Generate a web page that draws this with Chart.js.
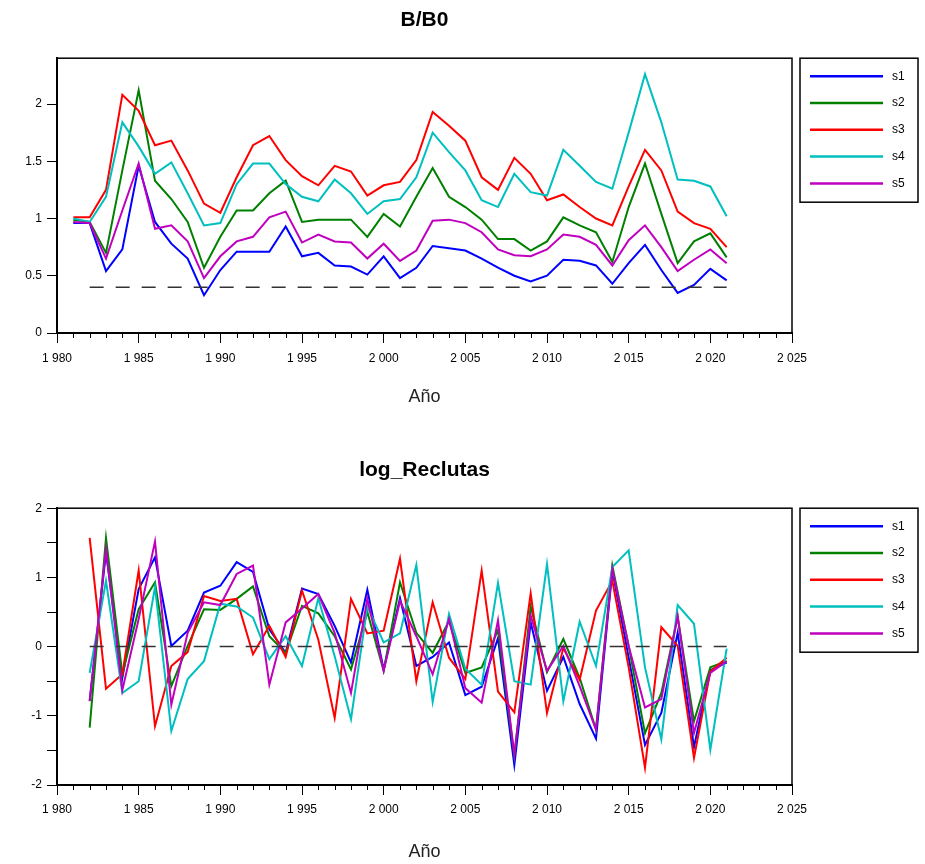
<!DOCTYPE html>
<html>
<head>
<meta charset="utf-8">
<script src="https://cdn.jsdelivr.net/npm/chart.js@4.4.1/dist/chart.umd.min.js"></script>
<style>
  body { margin: 0; background: #fff; }
  canvas { display: block; }
</style>
</head>
<body>
<canvas id="chartBB0" width="925" height="432"></canvas>
<canvas id="chartRec" width="925" height="432"></canvas>
<script>
// ---- data ----
const yearsB = [1981, 1982, 1983, 1984, 1985, 1986, 1987, 1988, 1989, 1990,
  1991, 1992, 1993, 1994, 1995, 1996, 1997, 1998, 1999, 2000,
  2001, 2002, 2003, 2004, 2005, 2006, 2007, 2008, 2009, 2010,
  2011, 2012, 2013, 2014, 2015, 2016, 2017, 2018, 2019, 2020, 2021];

const bS1 = [0.96, 0.96, 0.54, 0.73, 1.46, 0.97, 0.78, 0.65, 0.33, 0.55,
  0.71, 0.71, 0.71, 0.93, 0.67, 0.70, 0.59, 0.58, 0.51, 0.67,
  0.48, 0.57, 0.76, 0.74, 0.72, 0.65, 0.57, 0.50, 0.45, 0.50,
  0.64, 0.63, 0.59, 0.43, 0.61, 0.77, 0.55, 0.35, 0.42, 0.56, 0.46];
const bS2 = [0.99, 0.97, 0.70, 1.42, 2.12, 1.33, 1.17, 0.97, 0.57, 0.84,
  1.07, 1.07, 1.22, 1.33, 0.97, 0.99, 0.99, 0.99, 0.84, 1.04,
  0.93, 1.19, 1.44, 1.19, 1.10, 0.99, 0.82, 0.82, 0.72, 0.80,
  1.01, 0.94, 0.88, 0.62, 1.10, 1.48, 1.04, 0.61, 0.80, 0.87, 0.66];
const bS3 = [1.01, 1.01, 1.25, 2.08, 1.94, 1.64, 1.68, 1.42, 1.13, 1.05,
  1.36, 1.64, 1.72, 1.51, 1.37, 1.29, 1.46, 1.41, 1.20, 1.29,
  1.32, 1.51, 1.93, 1.81, 1.68, 1.36, 1.25, 1.53, 1.39, 1.16,
  1.21, 1.10, 1.00, 0.94, 1.28, 1.60, 1.42, 1.06, 0.96, 0.91, 0.75];
const bS4 = [1.00, 0.97, 1.19, 1.84, 1.63, 1.39, 1.49, 1.22, 0.94, 0.96,
  1.30, 1.48, 1.48, 1.30, 1.19, 1.15, 1.34, 1.22, 1.04, 1.15,
  1.17, 1.36, 1.75, 1.58, 1.42, 1.16, 1.10, 1.39, 1.23, 1.20,
  1.60, 1.46, 1.32, 1.26, 1.75, 2.26, 1.84, 1.34, 1.33, 1.28, 1.02];
const bS5 = [0.97, 0.96, 0.65, 1.07, 1.48, 0.91, 0.94, 0.80, 0.48, 0.67,
  0.80, 0.84, 1.01, 1.06, 0.79, 0.86, 0.80, 0.79, 0.65, 0.78,
  0.63, 0.72, 0.98, 0.99, 0.96, 0.88, 0.73, 0.68, 0.67, 0.73,
  0.86, 0.84, 0.77, 0.59, 0.81, 0.94, 0.75, 0.54, 0.64, 0.73, 0.61];
const bLimitYears = [1982, 2021];
const bLimitLevel = 0.4;

const yearsR = [1982, 1983, 1984, 1985, 1986, 1987, 1988, 1989, 1990, 1991,
  1992, 1993, 1994, 1995, 1996, 1997, 1998, 1999, 2000, 2001,
  2002, 2003, 2004, 2005, 2006, 2007, 2008, 2009, 2010, 2011,
  2012, 2013, 2014, 2015, 2016, 2017, 2018, 2019, 2020, 2021];

const rS1 = [-0.78, 1.36, -0.45, 0.83, 1.29, 0.01, 0.23, 0.78, 0.88, 1.22,
  1.08, 0.25, -0.09, 0.84, 0.76, 0.30, -0.23, 0.82, -0.33, 0.70,
  -0.28, -0.15, 0.06, -0.70, -0.58, 0.12, -1.71, 0.35, -0.64, -0.15,
  -0.83, -1.33, 1.10, -0.16, -1.42, -0.96, 0.20, -1.45, -0.34, -0.23];
const rS2 = [-1.17, 1.57, -0.40, 0.54, 0.93, -0.57, 0.01, 0.54, 0.53, 0.69,
  0.87, 0.15, -0.09, 0.59, 0.48, 0.15, -0.33, 0.50, -0.35, 0.93,
  0.20, -0.09, 0.37, -0.38, -0.30, 0.24, -1.58, 0.58, -0.37, 0.11,
  -0.45, -1.20, 1.17, 0.01, -1.25, -0.67, 0.43, -1.08, -0.30, -0.21];
const rS3 = [1.57, -0.61, -0.40, 1.10, -1.15, -0.28, -0.08, 0.73, 0.66, 0.69,
  -0.11, 0.30, -0.15, 0.81, 0.10, -1.03, 0.69, 0.19, 0.23, 1.27,
  -0.50, 0.64, -0.16, -0.47, 1.10, -0.65, -0.95, 0.77, -0.96, -0.02,
  -0.48, 0.52, 0.95, -0.30, -1.75, 0.28, 0.01, -1.61, -0.36, -0.16];
const rS4 = [-0.38, 0.95, -0.67, -0.50, 0.86, -1.22, -0.47, -0.21, 0.62, 0.58,
  0.42, -0.18, 0.15, -0.28, 0.70, -0.14, -1.05, 0.58, 0.06, 0.19,
  1.18, -0.80, 0.47, -0.32, -0.55, 0.92, -0.50, -0.55, 1.19, -0.79,
  0.36, -0.28, 1.15, 1.39, -0.30, -1.34, 0.60, 0.33, -1.49, -0.03];
const rS5 = [-0.79, 1.41, -0.63, 0.40, 1.52, -0.84, 0.20, 0.64, 0.60, 1.05,
  1.17, -0.55, 0.35, 0.55, 0.76, 0.20, -0.67, 0.69, -0.35, 0.66,
  0.15, -0.40, 0.40, -0.60, -0.81, 0.38, -1.56, 0.45, -0.35, 0.01,
  -0.57, -1.20, 1.12, 0.01, -0.88, -0.76, 0.44, -1.25, -0.38, -0.21];
const rLimitYears = [1982, 2021];
const rLimitLevel = 0;

const seriesNames = ['s1', 's2', 's3', 's4', 's5'];
const seriesColors = ['#0000ff', '#008000', '#ff0000', '#00bfbf', '#bf00bf'];

const tickFont = { family: "'Liberation Sans', Arial, sans-serif", size: 12 };

// full box around the plot + short yearly ticks
const framePlugin = {
  id: 'frame',
  afterDraw(chart) {
    const { ctx, chartArea: a } = chart;
    const xs = chart.scales.x;
    ctx.save();
    ctx.strokeStyle = '#000';
    ctx.lineWidth = 1.5;
    ctx.strokeRect(a.left, a.top, a.right - a.left, a.bottom - a.top);
    ctx.lineWidth = 1;
    ctx.beginPath();
    for (let v = xs.min; v <= xs.max; v++) {
      if (v % 5 === 0) continue;
      const px = Math.round(xs.getPixelForValue(v)) + 0.5;
      ctx.moveTo(px, a.bottom);
      ctx.lineTo(px, a.bottom + 5);
    }
    ctx.stroke();
    ctx.restore();
  }
};

// boxed legend to the right of the plot
const boxLegendPlugin = {
  id: 'boxLegend',
  afterDraw(chart) {
    const { ctx, chartArea: a } = chart;
    const x = a.right + 8, y = a.top, w = 118, h = 144;
    ctx.save();
    ctx.strokeStyle = '#000';
    ctx.lineWidth = 1.5;
    ctx.strokeRect(x, y, w, h);
    ctx.font = "12px 'Liberation Sans', Arial, sans-serif";
    ctx.textBaseline = 'middle';
    ctx.fillStyle = '#000';
    chart.data.datasets.slice(0, 5).forEach((ds, i) => {
      const ly = y + 18 + i * 26.8;
      ctx.strokeStyle = ds.borderColor;
      ctx.lineWidth = 2.5;
      ctx.beginPath();
      ctx.moveTo(x + 10, ly);
      ctx.lineTo(x + 83, ly);
      ctx.stroke();
      ctx.fillText(ds.label, x + 92, ly);
    });
    ctx.restore();
  }
};

function yearLabel(v) {
  if (v % 5 !== 0) return '';
  const s = String(v);
  return s.slice(0, 1) + ' ' + s.slice(1);
}

function makeChart(id, opts) {
  const ctx = document.getElementById(id).getContext('2d');
  const datasets = opts.series.map((vals, i) => ({
    label: seriesNames[i],
    data: vals.map((v, j) => ({ x: opts.years[j], y: v })),
    borderColor: seriesColors[i],
    backgroundColor: seriesColors[i],
    borderWidth: 2,
    pointRadius: 0,
    tension: 0,
    order: 5 - i
  }));
  datasets.push({
    label: 'limit',
    data: opts.limitYears.map(yr => ({ x: yr, y: opts.limitLevel })),
    borderColor: '#333',
    borderWidth: 1.5,
    borderDash: [14, 12],
    pointRadius: 0,
    order: 0
  });

  return new Chart(ctx, {
    type: 'line',
    data: { datasets },
    plugins: [framePlugin, boxLegendPlugin],
    options: {
      responsive: false,
      animation: false,
      layout: { padding: { left: 0, right: 133, top: 0, bottom: 0 } },
      plugins: {
        legend: { display: false },
        tooltip: { enabled: false },
        title: {
          display: true,
          text: opts.title,
          fullSize: false,
          color: '#000',
          font: { family: "'Liberation Sans', Arial, sans-serif", size: 21, weight: 'bold' },
          padding: opts.titlePad
        }
      },
      scales: {
        x: {
          type: 'linear',
          min: 1980,
          max: 2025,
          afterFit: s => { s.height = opts.xAxisHeight; },
          border: { display: true, color: '#000', width: 2 },
          grid: { drawOnChartArea: false, tickLength: 10, color: '#000' },
          ticks: {
            stepSize: 5,
            padding: opts.xTickPad,
            color: '#000',
            font: tickFont,
            maxRotation: 0,
            callback: v => yearLabel(v)
          },
          title: {
            display: true,
            text: 'Año',
            color: '#222',
            font: { family: "'Liberation Sans', Arial, sans-serif", size: 18 },
            padding: { top: 0, bottom: opts.xTitlePad }
          }
        },
        y: {
          min: opts.yMin,
          max: opts.yMax,
          afterFit: s => { s.width = 57; },
          border: { display: true, color: '#000', width: 2 },
          grid: { drawOnChartArea: false, tickLength: 10, color: '#000' },
          ticks: {
            stepSize: 0.5,
            includeBounds: false,
            padding: 5,
            color: '#000',
            font: tickFont,
            callback: opts.yLabel
          }
        }
      }
    }
  });
}

makeChart('chartBB0', {
  title: 'B/B0',
  titlePad: { top: 8, bottom: 25 },
  years: yearsB,
  series: [bS1, bS2, bS3, bS4, bS5],
  limitYears: bLimitYears,
  limitLevel: bLimitLevel,
  yMin: 0, yMax: 2.4,
  yLabel: v => String(v),
  xAxisHeight: 99,
  xTickPad: 8,
  xTitlePad: 24
});

makeChart('chartRec', {
  title: 'log_Reclutas',
  titlePad: { top: 26, bottom: 25 },
  years: yearsR,
  series: [rS1, rS2, rS3, rS4, rS5],
  limitYears: rLimitYears,
  limitLevel: rLimitLevel,
  yMin: -2, yMax: 2,
  yLabel: v => (Number.isInteger(v) ? String(v) : ''),
  xAxisHeight: 79,
  xTickPad: 7,
  xTitlePad: 1
});
</script>
</body>
</html>
